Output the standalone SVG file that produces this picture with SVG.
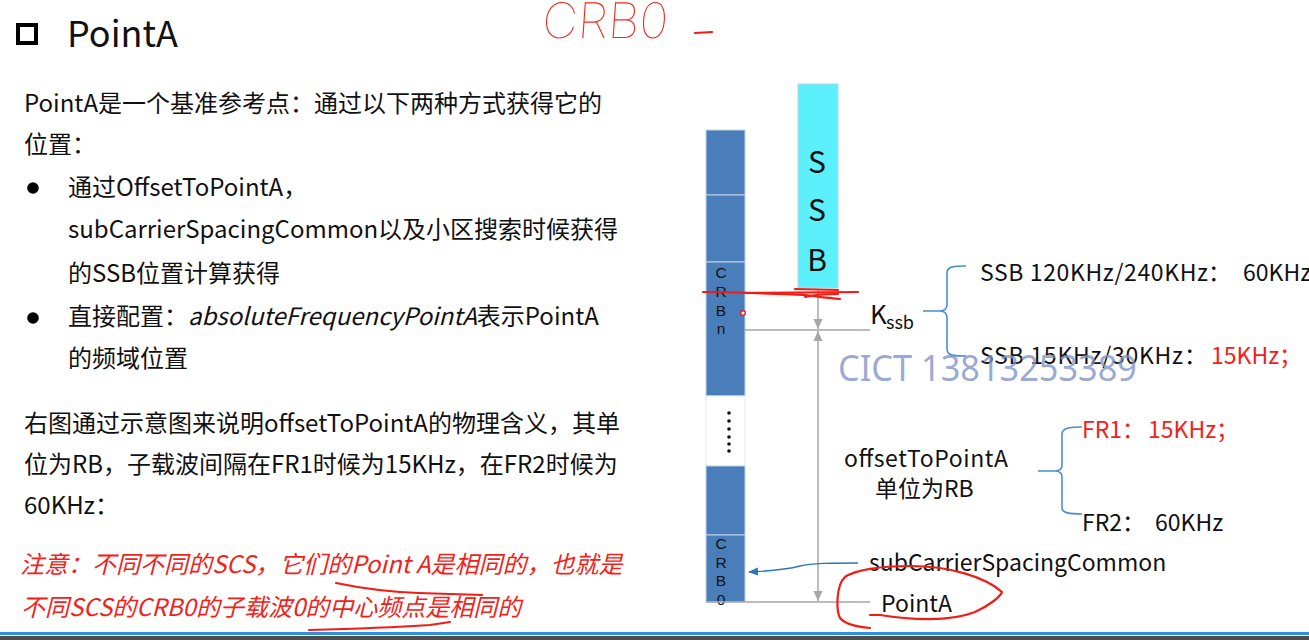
<svg xmlns="http://www.w3.org/2000/svg" width="1309" height="640" viewBox="0 0 1309 640">
  <style>
    .t { font-family: "Noto Sans CJK SC", "Noto Sans", sans-serif; font-size: 24px; fill: #111; }
    .r { font-family: "Noto Sans CJK SC", "Noto Sans", sans-serif; font-size: 23px; fill: #111; }
    .red { fill: #f0221a; }
    .it { font-style: italic; }
    .lbl { font-family: "Liberation Sans", "DejaVu Sans", sans-serif; font-size: 15.5px; fill: #111; text-anchor: middle; }
    .crb { fill: #4a7ebb; stroke: #c4d3e8; stroke-width: 1; }
    .dim { stroke: #a6a6a6; stroke-width: 1.5; fill: none; }
    .brace { stroke: #4a8ed0; stroke-width: 1.6; fill: none; }
    .ink { stroke: #f21c14; stroke-width: 2.2; fill: none; stroke-linecap: round; stroke-linejoin: round; }
  </style>
  <defs>
    <marker id="gArrow" viewBox="0 0 10 10" refX="10" refY="5" markerWidth="10" markerHeight="10" markerUnits="userSpaceOnUse" orient="auto-start-reverse">
      <path d="M0,0.5 L10,5 L0,9.5 z" fill="#a6a6a6"/>
    </marker>
    <marker id="bArrow" viewBox="0 0 10 10" refX="9" refY="5" markerWidth="10" markerHeight="10" markerUnits="userSpaceOnUse" orient="auto">
      <path d="M0,1 L10,5 L0,9 z" fill="#2e75b6"/>
    </marker>
  </defs>

  <rect width="1309" height="640" fill="#ffffff"/>

  <!-- heading -->
  <g id="heading">
    <rect x="18" y="25" width="18" height="18" fill="none" stroke="#000" stroke-width="4"/>
    <text x="67" y="47" class="t" style="font-size:36px" fill="#000">PointA</text>
  </g>

  <!-- handwritten note at the top -->
  <g id="ink-crb0">
    <text x="541" y="38" font-family="Inter, 'Open Sans', sans-serif" font-weight="100" font-size="49" fill="#f0281e" transform="skewX(-4) translate(3 0)">CRB0</text>
    <path class="ink" d="M 695 33 L 712 32"/>
  </g>

  <!-- explanatory text -->
  <g id="description">
    <text x="24" y="112" class="t">PointA是一个基准参考点：通过以下两种方式获得它的</text>
    <text x="24" y="153" class="t">位置：</text>
    <circle cx="33" cy="188" r="5.8" fill="#000"/>
    <text x="68" y="196" class="t">通过OffsetToPointA，</text>
    <text x="68" y="238" class="t">subCarrierSpacingCommon以及小区搜索时候获得</text>
    <text x="68" y="282" class="t">的SSB位置计算获得</text>
    <circle cx="33" cy="318" r="5.8" fill="#000"/>
    <text x="68" y="325" class="t">直接配置：<tspan class="it">absoluteFrequencyPointA</tspan>表示PointA</text>
    <text x="68" y="367" class="t">的频域位置</text>
    <text x="24" y="432" class="t">右图通过示意图来说明offsetToPointA的物理含义，其单</text>
    <text x="24" y="473" class="t">位为RB，子载波间隔在FR1时候为15KHz，在FR2时候为</text>
    <text x="24" y="514" class="t">60KHz：</text>
  </g>

  <g id="note">
    <text x="20" y="573" class="t red it">注意：不同不同的SCS，它们的Point A是相同的，也就是</text>
    <text x="21" y="616" class="t red it">不同SCS的CRB0的子载波0的中心频点是相同的</text>
    <path class="ink" d="M 336 583 C 360 588 390 592 419 593 L 482 595"/>
    <path class="ink" d="M 309 630 C 350 629 400 627 430 625 L 450 622"/>
  </g>

  <!-- common resource block column -->
  <g id="crb-column">
    <rect class="crb" x="706" y="130" width="39" height="65"/>
    <rect class="crb" x="706" y="195" width="39" height="67"/>
    <rect class="crb" x="706" y="262" width="39" height="134"/>
    <rect x="706" y="396" width="39" height="70" fill="#fff" stroke="#e4e8ee" stroke-width="1"/>
    <rect class="crb" x="706" y="466" width="39" height="69"/>
    <rect class="crb" x="706" y="535" width="39" height="67"/>
    <g fill="#111">
      <circle cx="729" cy="413" r="1.8"/>
      <circle cx="729" cy="421" r="1.8"/>
      <circle cx="729" cy="429" r="1.8"/>
      <circle cx="729" cy="437" r="1.8"/>
      <circle cx="729" cy="444" r="1.8"/>
      <circle cx="729" cy="451" r="1.8"/>
    </g>
    <text class="lbl" x="721" y="278">C</text>
    <text class="lbl" x="721" y="297">R</text>
    <text class="lbl" x="721" y="316">B</text>
    <text class="lbl" x="721" y="334">n</text>
    <text class="lbl" x="721" y="549">C</text>
    <text class="lbl" x="721" y="568">R</text>
    <text class="lbl" x="721" y="586">B</text>
    <text class="lbl" x="721" y="605">0</text>
    <circle cx="743" cy="313" r="2.3" fill="#fff" stroke="#f21c14" stroke-width="1.4"/>
  </g>

  <!-- SS/PBCH block -->
  <g id="ssb">
    <rect x="798" y="84" width="40" height="204" fill="#5bf0fc" stroke="#b8d8dc" stroke-width="1"/>
    <text x="817" y="173" class="t" style="font-size:30px" text-anchor="middle">S</text>
    <text x="817" y="221" class="t" style="font-size:30px" text-anchor="middle">S</text>
    <text x="817" y="271" class="t" style="font-size:30px" text-anchor="middle">B</text>
  </g>

  <!-- dimension lines and pointers -->
  <g id="connectors">
    <line class="dim" x1="745" y1="330" x2="870" y2="330"/>
    <line class="dim" x1="706" y1="602" x2="870" y2="602"/>
    <line class="dim" x1="818" y1="289" x2="818" y2="329" marker-end="url(#gArrow)"/>
    <line class="dim" x1="818" y1="331" x2="818" y2="601" marker-start="url(#gArrow)" marker-end="url(#gArrow)"/>
    <path d="M 858 563 C 830 563 812 563 800 566 C 785 570 770 571 749 572" stroke="#2e75b6" stroke-width="1.4" fill="none" marker-end="url(#bArrow)"/>
    <path class="brace" d="M 923 311 L 940 311 M 966 266 C 955 266 947 266 947 273 L 947 304 C 947 309 944 311 940 311 C 944 311 947 313 947 318 L 947 349 C 947 356 955 356 966 356"/>
    <path class="brace" d="M 1038 471 L 1055 471 M 1082 427 C 1070 427 1062 428 1062 434 L 1062 465 C 1062 469 1059 471 1055 471 C 1059 471 1062 473 1062 477 L 1062 508 C 1062 513 1070 514 1082 514"/>
  </g>

  <!-- labels beside the diagram -->
  <g id="kssb">
    <text x="870" y="324" class="t" style="font-size:26px">K</text>
    <text x="886" y="329" class="t" style="font-size:18px">ssb</text>
  </g>
  <g id="kssb-values">
    <text x="980" y="281" class="r" textLength="228" lengthAdjust="spacing">SSB 120KHz/240KHz</text>
    <text x="1208" y="281" class="r">：</text>
    <text x="1243" y="281" class="r">60KHz</text>
    <text x="980" y="364" class="r" textLength="203" lengthAdjust="spacing">SSB 15KHz/30KHz</text>
    <text x="1184" y="364" class="r">：</text>
    <text x="1211" y="364" class="r red">15KHz；</text>
  </g>
  <g id="offset">
    <text x="844" y="467" class="r" textLength="164" lengthAdjust="spacing">offsetToPointA</text>
    <text x="875" y="497" class="r">单位为RB</text>
  </g>
  <g id="offset-values">
    <text x="1082" y="438" class="r red">FR1：</text>
    <text x="1148" y="438" class="r red">15KHz；</text>
    <text x="1082" y="531" class="r">FR2：</text>
    <text x="1155" y="531" class="r">60KHz</text>
  </g>
  <g id="scs-label">
    <text x="869" y="571" class="r">subCarrierSpacingCommon</text>
  </g>
  <g id="pointa-label">
    <text x="881" y="612" class="r">PointA</text>
  </g>

  <!-- watermark -->
  <text x="838" y="381" font-family="'Noto Sans', sans-serif" font-size="36" fill="#7f93c8" fill-opacity="0.8" textLength="299" lengthAdjust="spacingAndGlyphs">CICT 13813253389</text>

  <!-- red pen marks -->
  <g id="ink-marks">
    <path class="ink" d="M 703 292 C 740 292 780 294 805 295 C 815 296 825 298 840 299"/>
    <path class="ink" d="M 742 293 L 858 292"/>
    <path class="ink" d="M 795 289 L 838 290"/>
    <path class="ink" d="M 805 297 C 812 295 822 294 838 294"/>
    <path class="ink" d="M 870 615 L 880 615 C 910 620 950 622 975 612 C 990 605 1000 597 1002 592 C 985 577 950 566 910 566 C 880 566 855 570 845 577 C 836 585 836 610 840 618 C 845 624 858 627 870 628"/>
  </g>

  <!-- footer bar -->
  <rect x="0" y="632" width="1309" height="3" fill="#2f8fe3"/>
  <rect x="0" y="636" width="1309" height="4" fill="#4d4d4d"/>
</svg>
